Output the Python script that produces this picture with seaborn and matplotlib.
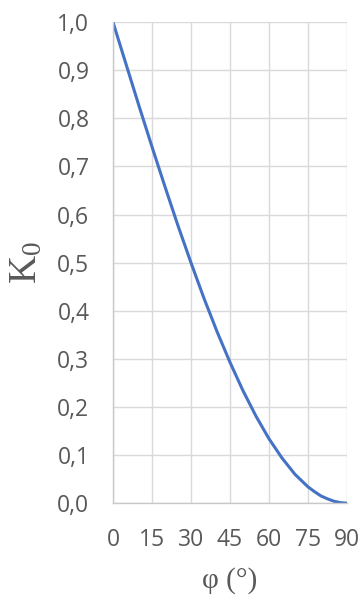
import matplotlib
matplotlib.use("Agg")
import matplotlib.pyplot as plt
import matplotlib.ticker as mticker
import seaborn as sns
import pandas as pd

# Friction angle (degrees) and earth pressure coefficient at rest
phi = [0, 5, 10, 15, 20, 25, 30, 35, 40, 45, 50, 55, 60, 65, 70, 75,
       77.5, 80, 82.5, 85, 87.5, 90]
k0 = [1.000, 0.913, 0.826, 0.741, 0.658, 0.577, 0.500, 0.426, 0.357, 0.293,
      0.234, 0.181, 0.134, 0.094, 0.060, 0.034, 0.024, 0.015, 0.009, 0.004,
      0.001, 0.000]
x_ticks = [0, 15, 30, 45, 60, 75, 90]
y_ticks = [0.0, 0.1, 0.2, 0.3, 0.4, 0.5, 0.6, 0.7, 0.8, 0.9, 1.0]

df = pd.DataFrame({"phi": phi, "K0": k0})

sns.set_theme(style="whitegrid")
plt.rcParams["font.family"] = ["Open Sans", "DejaVu Sans"]
plt.rcParams["mathtext.fontset"] = "custom"
plt.rcParams["mathtext.rm"] = "Liberation Serif"
plt.rcParams["mathtext.it"] = "Liberation Serif"

fig = plt.figure(figsize=(3.61, 5.99), dpi=100)
ax = fig.add_axes([0.313, 0.160, 0.648, 0.803])

sns.lineplot(data=df, x="phi", y="K0", ax=ax, color="#4472C4", linewidth=2.2)

ax.set_xlim(0, 90)
ax.set_ylim(0, 1.0)
ax.set_xticks(x_ticks)
ax.set_yticks(y_ticks)
ax.yaxis.set_major_formatter(mticker.FuncFormatter(lambda v, p: f"{v:.1f}".replace(".", ",")))
ax.tick_params(axis="both", labelsize=16.5, labelcolor="#595959", length=0)
ax.tick_params(axis="y", pad=17)
ax.tick_params(axis="x", pad=18)

ax.grid(True, color="#D9D9D9", linewidth=1.0)
for side in ["top", "right"]:
    ax.spines[side].set_visible(False)
for side in ["left", "bottom"]:
    ax.spines[side].set_color("#C8C8C8")
    ax.spines[side].set_linewidth(1.0)

ax.set_xlabel("φ (°)", fontsize=21, color="#595959", family=["Liberation Serif", "DejaVu Serif"])
ax.set_ylabel(r"$\mathrm{K}_0$", fontsize=28, color="#595959")
ax.xaxis.set_label_coords(0.5, -0.132)
ax.yaxis.set_label_coords(-0.29, 0.5)

fig.savefig("out.png", dpi=100, facecolor="white")
